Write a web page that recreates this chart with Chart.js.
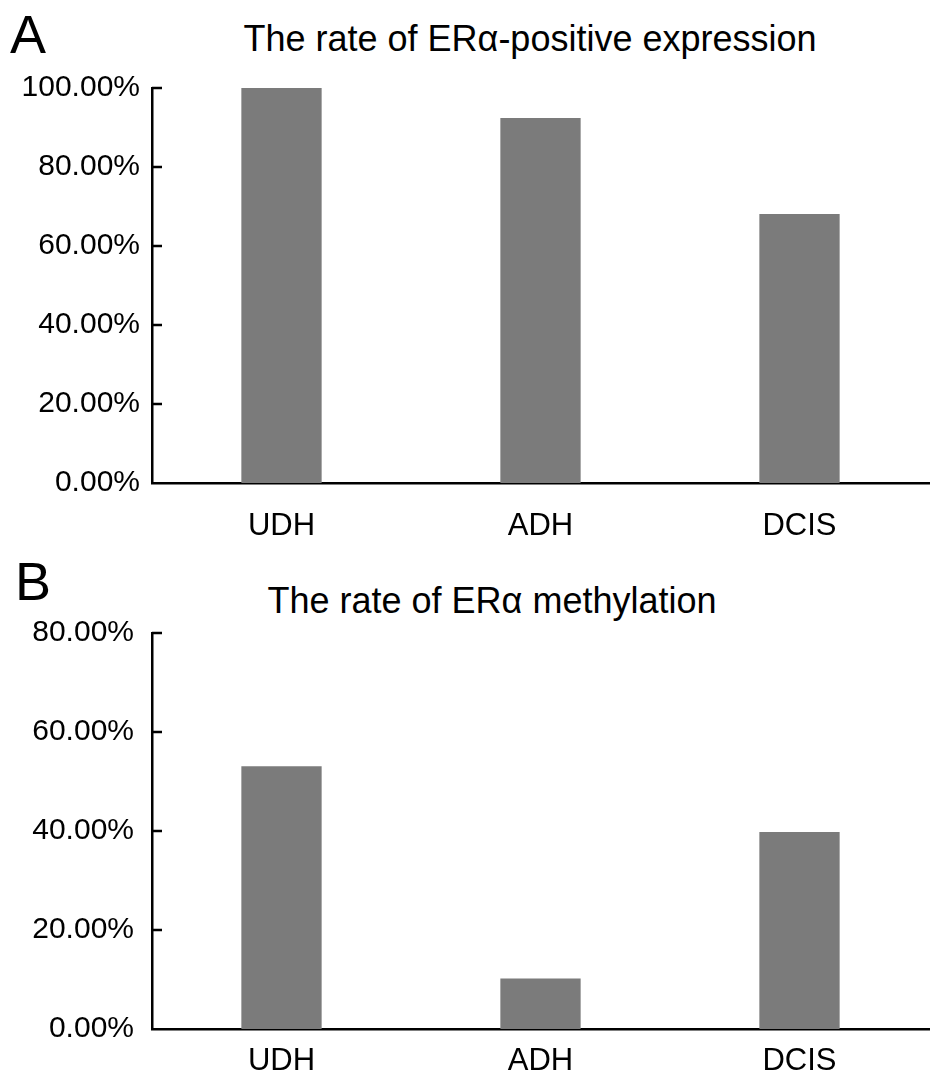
<!DOCTYPE html>
<html>
<head>
<meta charset="utf-8">
<script src="https://cdn.jsdelivr.net/npm/chart.js@4/dist/chart.umd.min.js"></script>
<style>
    body { margin: 0; background: #fff; }
    #wrap { position: relative; width: 945px; height: 1085px; font-family: "Liberation Sans", Arial, sans-serif; color: #000; }
    canvas { position: absolute; left: 0; }
    .letter { position: absolute; font-size: 54px; line-height: 1; }
    .title { position: absolute; font-size: 36px; line-height: 1; white-space: nowrap; transform: translateX(-50%); }
</style>
</head>
<body>
<div id="wrap">
    <div class="letter" style="left:10px; top:7px;">A</div>
    <div class="title" style="left:530px; top:21px;">The rate of ERα-positive expression</div>
    <canvas id="chartA" width="945" height="545" style="top:0;"></canvas>
    <div class="letter" style="left:15px; top:554px;">B</div>
    <div class="title" style="left:492px; top:583px;">The rate of ERα methylation</div>
    <canvas id="chartB" width="945" height="540" style="top:545px;"></canvas>
</div>
<script>
const categories = ['UDH', 'ADH', 'DCIS'];
const positiveRate = [100, 92.4, 68.1];
const methylationRate = [53.1, 10.2, 39.8];
const positiveMax = 100;
const methylationMax = 80;
const tickStep = 20;

const barColor = 'rgb(123, 123, 123)';

// short tick marks pointing into the plot, like the original
const innerTicks = {
    id: 'innerTicks',
    afterDraw(chart) {
        const y = chart.scales.y;
        const ctx = chart.ctx;
        ctx.save();
        ctx.strokeStyle = '#000';
        ctx.lineWidth = 2.5;
        ctx.beginPath();
        y.ticks.forEach(t => {
            if (t.value === 0) return;
            const py = y.getPixelForValue(t.value);
            ctx.moveTo(chart.chartArea.left, py);
            ctx.lineTo(chart.chartArea.left + 10, py);
        });
        ctx.stroke();
        ctx.restore();
    }
};

function makeChart(id, values, max, yPad, xHeight, xPad) {
    const ctx = document.getElementById(id).getContext('2d');
    return new Chart(ctx, {
        type: 'bar',
        data: {
            labels: categories,
            datasets: [{
                data: values,
                backgroundColor: barColor,
                borderWidth: 0,
                barPercentage: 0.31,
                categoryPercentage: 1
            }]
        },
        options: {
            responsive: false,
            animation: false,
            layout: {
                padding: { top: 88, right: 16, left: 0, bottom: 0 }
            },
            plugins: {
                legend: { display: false },
                tooltip: { enabled: false }
            },
            scales: {
                x: {
                    grid: { display: false, drawTicks: false },
                    border: { display: true, color: '#000', width: 2.5 },
                    ticks: {
                        color: '#000',
                        padding: xPad,
                        font: { family: 'Liberation Sans', size: 31 }
                    },
                    afterFit: function(scale) {
                        scale.height = xHeight;
                    }
                },
                y: {
                    min: 0,
                    max: max,
                    grid: { display: false, drawTicks: false },
                    border: { display: true, color: '#000', width: 2.5 },
                    ticks: {
                        stepSize: tickStep,
                        color: '#000',
                        padding: yPad,
                        font: { family: 'Liberation Sans', size: 30 },
                        callback: v => v.toFixed(2) + '%'
                    },
                    afterFit: function(scale) {
                        scale.width = 152;
                    }
                }
            }
        },
        plugins: [innerTicks]
    });
}

makeChart('chartA', positiveRate, positiveMax, 12, 62, 25);
makeChart('chartB', methylationRate, methylationMax, 18, 56, 14);
</script>
</body>
</html>
